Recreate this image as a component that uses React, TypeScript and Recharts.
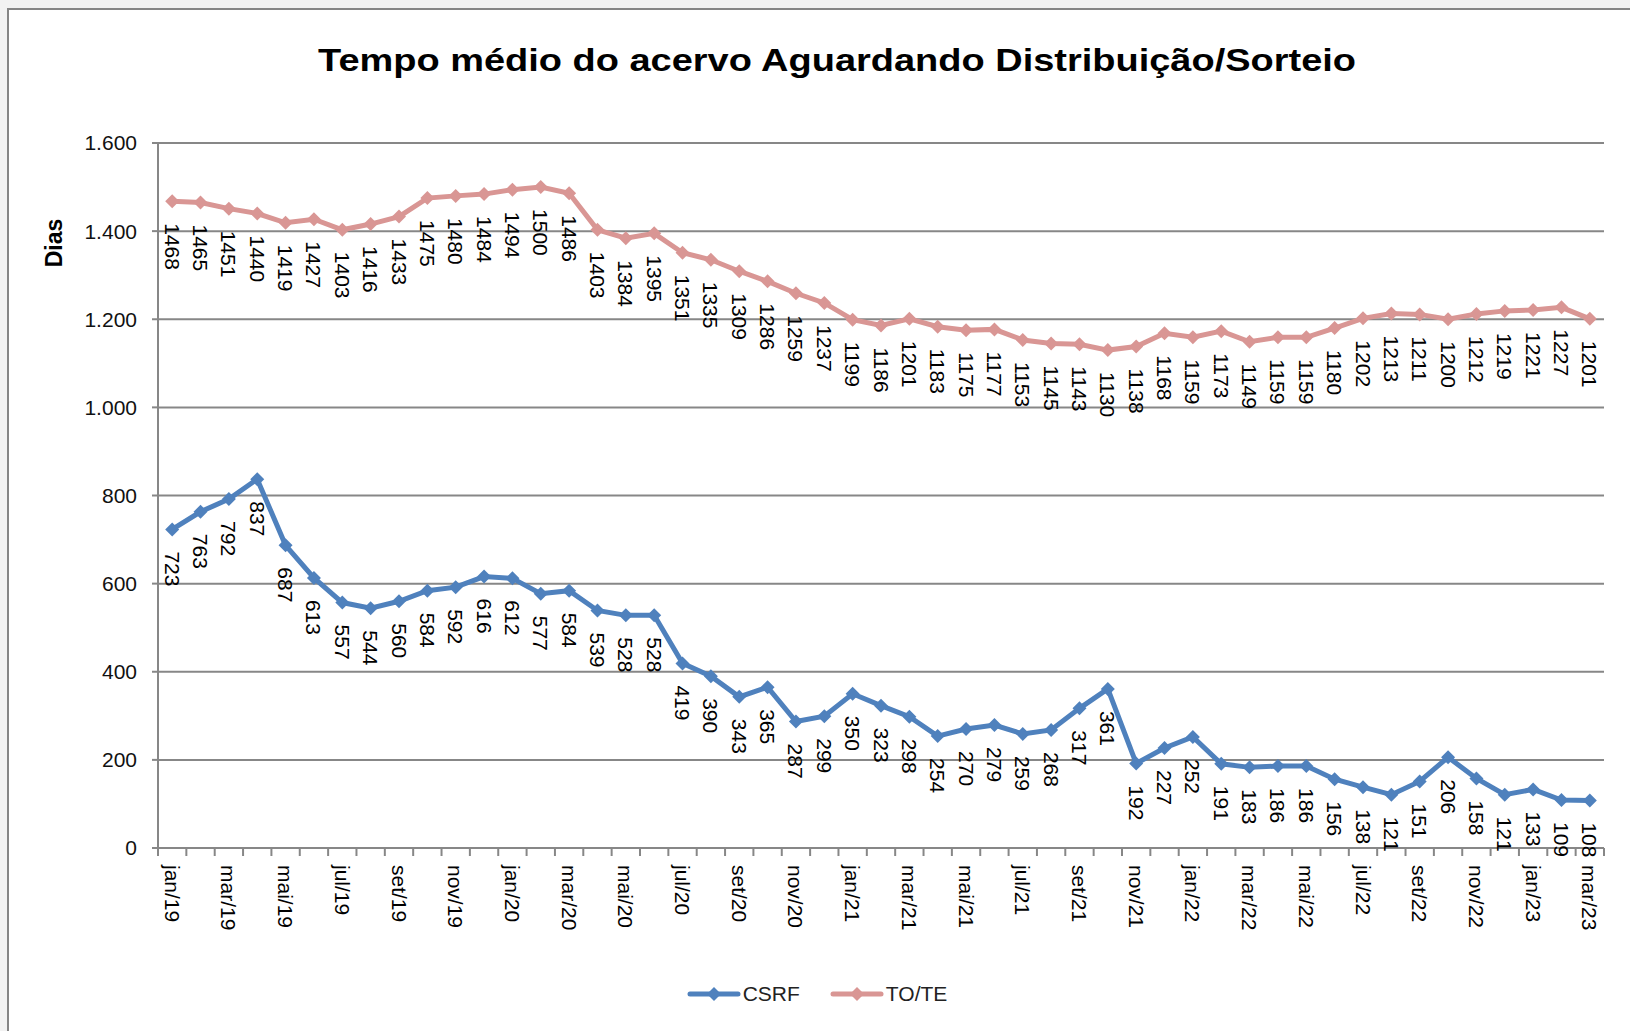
import React from 'react';
import { LineChart, Line, XAxis, YAxis, CartesianGrid, LabelList, Legend } from 'recharts';

const months = [
  'jan/19', 'fev/19', 'mar/19', 'abr/19', 'mai/19', 'jun/19', 'jul/19', 'ago/19', 'set/19', 'out/19', 'nov/19', 'dez/19',
  'jan/20', 'fev/20', 'mar/20', 'abr/20', 'mai/20', 'jun/20', 'jul/20', 'ago/20', 'set/20', 'out/20', 'nov/20', 'dez/20',
  'jan/21', 'fev/21', 'mar/21', 'abr/21', 'mai/21', 'jun/21', 'jul/21', 'ago/21', 'set/21', 'out/21', 'nov/21', 'dez/21',
  'jan/22', 'fev/22', 'mar/22', 'abr/22', 'mai/22', 'jun/22', 'jul/22', 'ago/22', 'set/22', 'out/22', 'nov/22', 'dez/22',
  'jan/23', 'fev/23', 'mar/23',
];

const csrf = [
  723, 763, 792, 837, 687, 613, 557, 544, 560, 584, 592, 616,
  612, 577, 584, 539, 528, 528, 419, 390, 343, 365, 287, 299,
  350, 323, 298, 254, 270, 279, 259, 268, 317, 361, 192, 227,
  252, 191, 183, 186, 186, 156, 138, 121, 151, 206, 158, 121,
  133, 109, 108,
];

const tote = [
  1468, 1465, 1451, 1440, 1419, 1427, 1403, 1416, 1433, 1475, 1480, 1484,
  1494, 1500, 1486, 1403, 1384, 1395, 1351, 1335, 1309, 1286, 1259, 1237,
  1199, 1186, 1201, 1183, 1175, 1177, 1153, 1145, 1143, 1130, 1138, 1168,
  1159, 1173, 1149, 1159, 1159, 1180, 1202, 1213, 1211, 1200, 1212, 1219,
  1221, 1227, 1201,
];

const yTicks = [0, 200, 400, 600, 800, 1000, 1200, 1400, 1600];

const data = months.map((m, i) => ({ month: m, csrf: csrf[i], tote: tote[i] }));

const BLUE = '#4F81BD';
const PINK = '#D99694';
const GRID = '#878787';
const FONT = '"Liberation Sans", Arial, sans-serif';

const TICK_SIZE = 8;
const TICK_MARGIN = 9;

const fmt = (v: number) => v.toLocaleString('de-DE');

const Diamond = ({ cx, cy, fill }: any) => {
  if (cx == null || cy == null) return null;
  const r = 7;
  return <polygon points={`${cx},${cy - r} ${cx + r},${cy} ${cx},${cy + r} ${cx - r},${cy}`} fill={fill} />;
};

const PointLabel = ({ x, y, value }: any) => (
  <text
    transform={`translate(${x},${y + 22}) rotate(90)`}
    textAnchor="start"
    dominantBaseline="central"
    fontFamily={FONT}
    fontSize={21}
    fill="#000"
  >
    {value}
  </text>
);

const MonthTick = (props: any) => {
  const { x, y, payload, index, visibleTicksCount } = props;
  const half = payload.offset ?? 0;
  const axisY = y - TICK_SIZE - TICK_MARGIN;
  const isLast = index === visibleTicksCount - 1;
  return (
    <g>
      <line x1={x - half} x2={x - half} y1={axisY} y2={axisY + TICK_SIZE} stroke={GRID} strokeWidth={2} />
      {isLast && <line x1={x + half} x2={x + half} y1={axisY} y2={axisY + TICK_SIZE} stroke={GRID} strokeWidth={2} />}
      {index % 2 === 0 && (
        <text
          transform={`translate(${x},${y}) rotate(90)`}
          textAnchor="start"
          dominantBaseline="central"
          fontFamily={FONT}
          fontSize={21}
          fill="#000"
        >
          {payload.value}
        </text>
      )}
    </g>
  );
};

const LegendContent = ({ payload }: any) => (
  <div style={{ display: 'flex', justifyContent: 'center', alignItems: 'center', gap: 30, paddingLeft: 4 }}>
    {(payload || []).map((p: any) => (
      <div key={p.value} style={{ display: 'flex', alignItems: 'center' }}>
        <svg width={54} height={20}>
          <line x1={3} x2={51} y1={10} y2={10} stroke={p.color} strokeWidth={5} strokeLinecap="round" />
          <polygon points="27,3 34,10 27,17 20,10" fill={p.color} />
        </svg>
        <span style={{ fontFamily: FONT, fontSize: 21, color: '#222', marginLeft: 2 }}>{p.value}</span>
      </div>
    ))}
  </div>
);

export default function App() {
  return (
    <div style={{ position: 'absolute', left: 0, top: 0, width: 1630, height: 1031, background: '#f2f2f2', overflow: 'hidden' }}>
      <div
        style={{
          position: 'absolute', left: 7, top: 8, width: 1700, height: 1100, background: '#fff',
          borderLeft: '2px solid #858585', borderTop: '2px solid #858585',
        }}
      />
      <svg width={1630} height={100} style={{ position: 'absolute', left: 0, top: 0 }}>
        <text
          x={318}
          y={71}
          textLength={1038}
          lengthAdjust="spacingAndGlyphs"
          fontFamily={FONT}
          fontWeight="bold"
          fontSize={31}
          fill="#000"
        >
          Tempo médio do acervo Aguardando Distribuição/Sorteio
        </text>
      </svg>
      <div style={{ position: 'absolute', left: 0, top: 0 }}>
        <LineChart width={1630} height={1031} data={data} margin={{ top: 143, right: 26, left: 0, bottom: 0 }}>
          <CartesianGrid vertical={false} stroke={GRID} strokeWidth={2} />
          <XAxis
            dataKey="month"
            scale="band"
            interval={0}
            height={183}
            tickSize={TICK_SIZE}
            tickMargin={TICK_MARGIN}
            tickLine={false}
            axisLine={{ stroke: GRID, strokeWidth: 2 }}
            tick={<MonthTick />}
          />
          <YAxis
            width={158}
            domain={[0, 1600]}
            ticks={yTicks}
            interval={0}
            tickFormatter={fmt}
            tickSize={6}
            tickMargin={15}
            tickLine={{ stroke: GRID, strokeWidth: 2 }}
            axisLine={{ stroke: GRID, strokeWidth: 2 }}
            tick={{ fontFamily: FONT, fontSize: 21, fill: '#111' }}
            label={{
              content: ({ viewBox }: any) => (
                <text
                  transform={`translate(${viewBox.x + 54},${viewBox.y + 100}) rotate(-90)`}
                  textAnchor="middle"
                  dominantBaseline="central"
                  fontFamily={FONT}
                  fontWeight="bold"
                  fontSize={23}
                  fill="#000"
                >
                  Dias
                </text>
              ),
            }}
          />
          <Legend
            layout="vertical"
            verticalAlign="middle"
            align="center"
            wrapperStyle={{ top: 982, left: 0, width: 1630 }}
            content={<LegendContent />}
          />
          <Line
            name="CSRF"
            dataKey="csrf"
            stroke={BLUE}
            strokeWidth={5}
            dot={<Diamond fill={BLUE} />}
            activeDot={false}
            isAnimationActive={false}
          >
            <LabelList dataKey="csrf" content={<PointLabel />} />
          </Line>
          <Line
            name="TO/TE"
            dataKey="tote"
            stroke={PINK}
            strokeWidth={5}
            dot={<Diamond fill={PINK} />}
            activeDot={false}
            isAnimationActive={false}
          >
            <LabelList dataKey="tote" content={<PointLabel />} />
          </Line>
        </LineChart>
      </div>
    </div>
  );
}
